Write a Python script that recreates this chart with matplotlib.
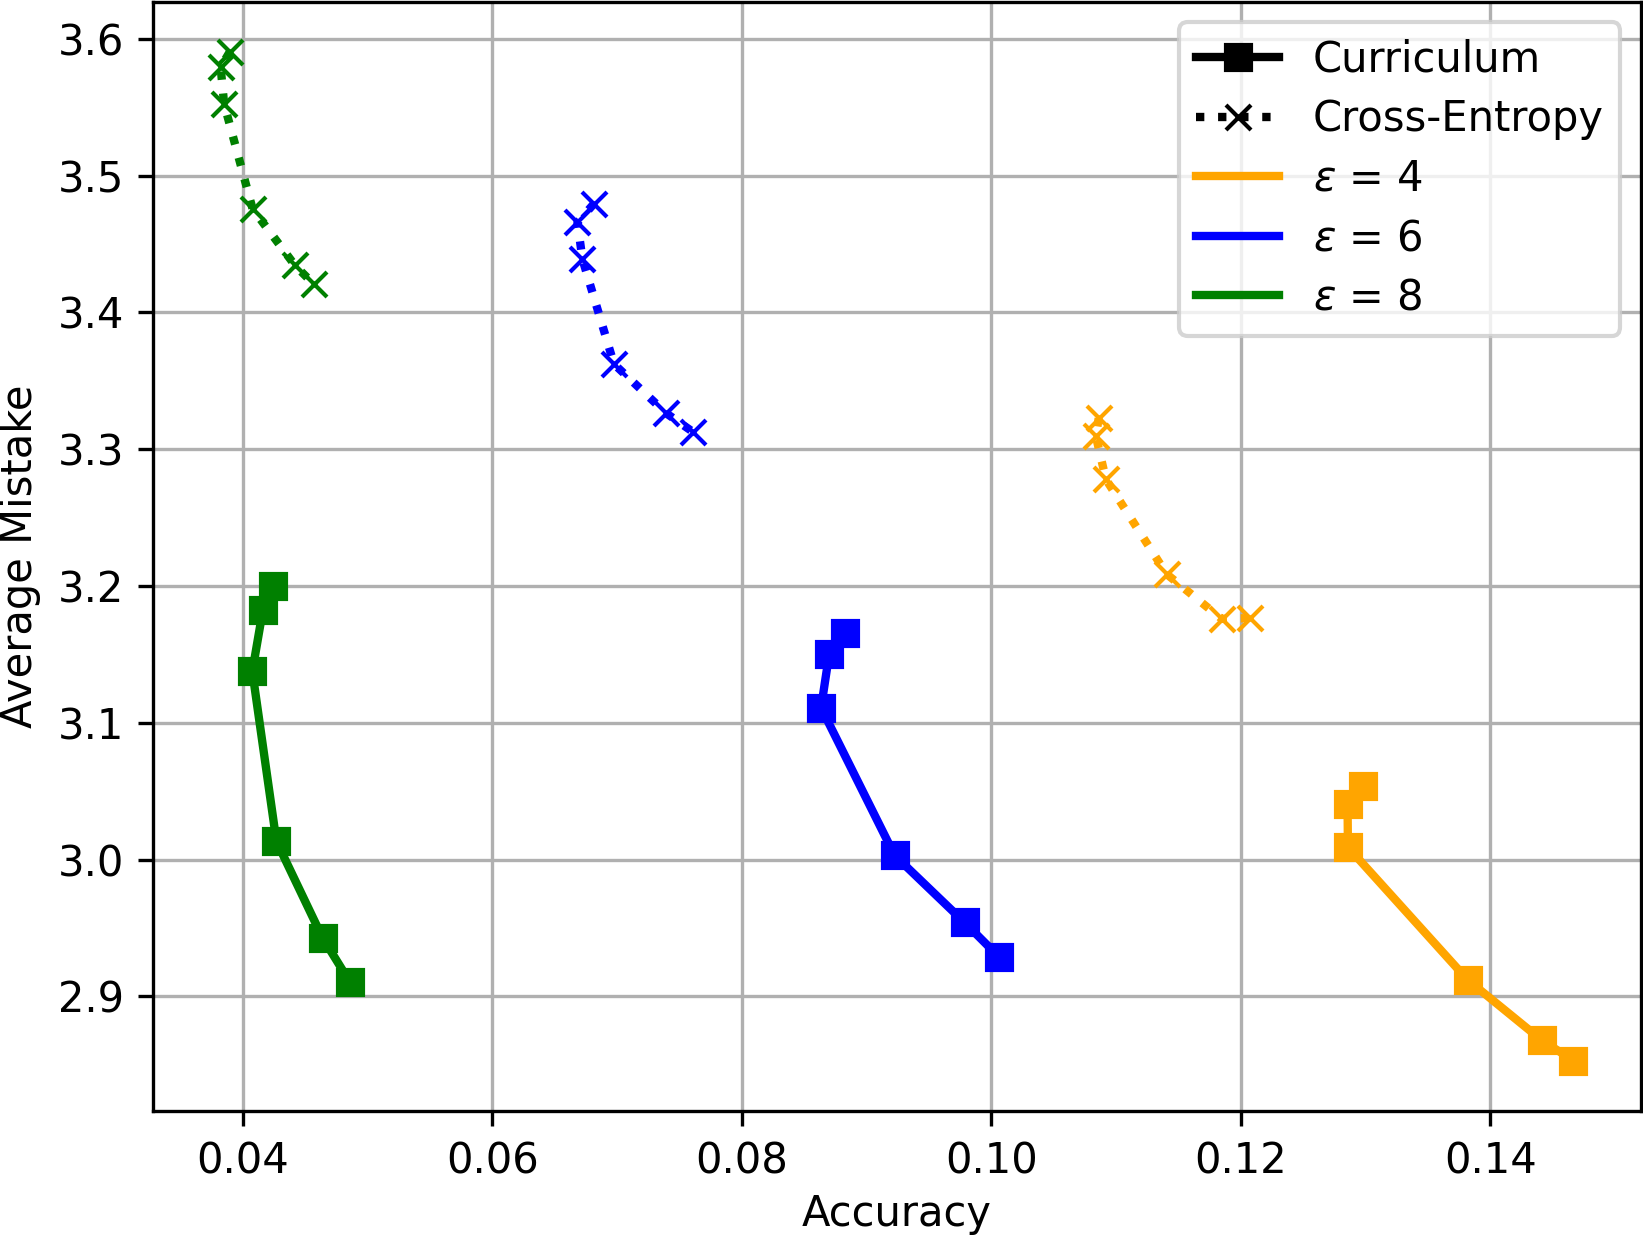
import matplotlib
matplotlib.use("Agg")
import matplotlib.pyplot as plt
from matplotlib.lines import Line2D

# values
eps_labels = [r"$\varepsilon$ = 4", r"$\varepsilon$ = 6", r"$\varepsilon$ = 8"]
colors = ["orange", "blue", "green"]

cur_acc_4 = [0.12975, 0.12855, 0.12858, 0.13818, 0.14410, 0.14665]
cur_mis_4 = [3.0540, 3.0405, 3.0090, 2.9120, 2.8680, 2.8530]
ce_acc_4 = [0.10860, 0.10838, 0.10918, 0.11405, 0.11845, 0.12070]
ce_mis_4 = [3.3227, 3.3094, 3.2780, 3.2087, 3.1760, 3.1765]

cur_acc_6 = [0.08830, 0.08700, 0.08635, 0.09225, 0.09785, 0.10065]
cur_mis_6 = [3.1655, 3.1503, 3.1110, 3.0030, 2.9540, 2.9285]
ce_acc_6 = [0.06815, 0.06682, 0.06722, 0.06975, 0.07395, 0.07612]
ce_mis_6 = [3.4796, 3.4658, 3.4390, 3.3623, 3.3262, 3.3124]

cur_acc_8 = [0.04244, 0.04160, 0.04076, 0.04269, 0.04639, 0.04857]
cur_mis_8 = [3.1997, 3.1821, 3.1376, 3.0134, 2.9428, 2.9106]
ce_acc_8 = [0.03895, 0.03822, 0.03850, 0.04078, 0.04418, 0.04570]
ce_mis_8 = [3.5905, 3.5793, 3.5525, 3.4758, 3.4344, 3.4206]

cur_acc = [cur_acc_4, cur_acc_6, cur_acc_8]
cur_mis = [cur_mis_4, cur_mis_6, cur_mis_8]
ce_acc = [ce_acc_4, ce_acc_6, ce_acc_8]
ce_mis = [ce_mis_4, ce_mis_6, ce_mis_8]

fig = plt.figure(figsize=(1643 / 300, 1237 / 300), dpi=300)
ax = fig.add_axes([153 / 1643, 126 / 1237, 1488 / 1643, 1109.5 / 1237])

for i in range(3):
    ax.plot(cur_acc[i], cur_mis[i], color=colors[i], linestyle="-", marker="s", lw=2)
    ax.plot(ce_acc[i], ce_mis[i], color=colors[i], linestyle=":", marker="x", lw=2)

ax.grid(True, color="#b0b0b0", lw=0.8)
ax.set_axisbelow(True)
ax.set_xlabel("Accuracy", labelpad=2.5)
ax.set_ylabel("Average Mistake")
ax.set_yticks([2.9, 3.0, 3.1, 3.2, 3.3, 3.4, 3.5, 3.6])

handles = [
    Line2D([], [], color="black", linestyle="-", marker="s", lw=2),
    Line2D([], [], color="black", linestyle=":", marker="x", lw=2),
]
labels = ["Curriculum", "Cross-Entropy"]
for i in range(3):
    handles.append(Line2D([], [], color=colors[i], lw=2))
    labels.append(eps_labels[i])
ax.legend(handles, labels, loc="upper right", labelspacing=0.42)

fig.savefig("out.png", dpi=300)
